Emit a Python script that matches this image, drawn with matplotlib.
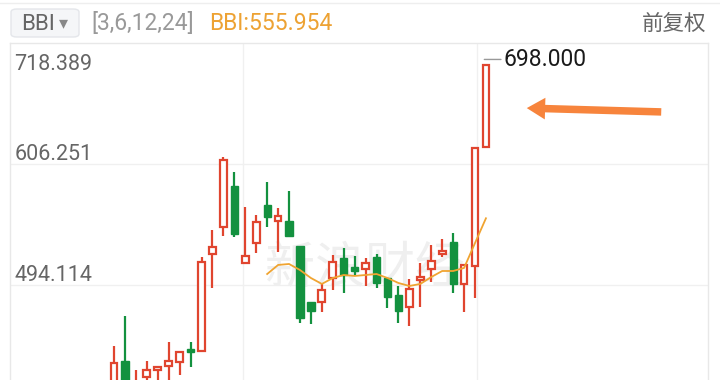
import matplotlib
matplotlib.use("Agg")
import matplotlib.pyplot as plt
from matplotlib.patches import FancyArrowPatch, FancyBboxPatch
import matplotlib.transforms as mtransforms

plt.rcParams['font.family'] = ['Roboto', 'Noto Sans CJK SC', 'DejaVu Sans']

# ---- data ----
opens  = [395.0, 423.7, 398.0, 408.9, 415.3, 419.1, 422.8, 434.8, 432.9, 522.8,
          547.9, 585.9, 514.5, 533.0, 568.2, 553.4, 553.4, 530.3, 478.4, 478.4,
          500.6, 519.1, 510.8, 509.0, 520.1, 500.6, 484.9, 473.7, 498.8, 509.0,
          522.8, 534.0, 495.1, 511.7, 622.0]
highs  = [437.6, 465.4, 415.3, 423.7, 419.1, 441.3, 432.9, 441.3, 520.1, 545.1,
          612.7, 598.8, 566.4, 559.0, 589.6, 565.5, 581.2, 530.3, 478.4, 495.1,
          521.9, 528.4, 521.0, 519.1, 522.8, 500.6, 493.2, 499.7, 514.5, 531.2,
          536.8, 542.3, 512.7, 621.1, 698.0]
lows   = [390.0, 392.0, 394.0, 402.0, 403.0, 404.0, 410.7, 418.1, 432.9, 491.3,
          539.5, 538.6, 514.5, 523.8, 547.9, 524.7, 538.6, 458.9, 458.0, 469.1,
          489.5, 486.7, 502.5, 493.2, 491.3, 472.8, 458.9, 456.1, 473.7, 496.9,
          520.1, 486.7, 469.1, 482.1, 622.0]
closes = [421.8, 398.0, 403.0, 415.3, 418.1, 423.7, 432.0, 432.0, 515.4, 529.3,
          610.0, 541.4, 521.0, 552.5, 557.1, 558.1, 539.5, 463.5, 470.0, 489.5,
          515.4, 503.4, 507.1, 514.5, 496.0, 483.0, 470.0, 490.4, 501.5, 516.4,
          525.6, 495.1, 512.7, 621.1, 698.0]
bbi_start = 14
bbi = [504.3, 512.7, 513.6, 508.0, 500.6, 495.1, 500.6, 503.4, 502.5, 503.4,
       504.3, 500.6, 496.0, 493.2, 495.1, 501.5, 507.1, 507.1, 509.9, 533.0,
       555.954]
ytick_vals = [718.389, 606.251, 494.114]
ytick_labels = ["718.389", "606.251", "494.114"]
last_label = "698.000"
header_params = "[3,6,12,24]"
header_bbi = "BBI:555.954"

RED = "#e0452f"
GREEN = "#13913f"
ORANGE_LINE = "#f0a431"

W, H = 720, 380
fig = plt.figure(figsize=(7.2, 3.8), dpi=100)
fig.patch.set_facecolor("white")

def fx(px):
    return px / W

def fy(py):
    return 1 - py / H

ax = fig.add_axes([fx(10), 0, fx(708) - fx(10), fy(43)])
ax.set_ylim(406.08, 718.389)
ax.set_xlim(-9.51, 54.3)
ax.set_xticks([])
ax.set_yticks([])
for s in ["left", "top", "right"]:
    ax.spines[s].set_color("#e8e8e8")
    ax.spines[s].set_linewidth(1)
ax.spines["bottom"].set_visible(False)

# grid
for v in ytick_vals[1:]:
    ax.axhline(v, color="#f0f0f0", lw=1, zorder=0)
for gx in [11.79, 33.18]:
    ax.axvline(gx, color="#f0f0f0", lw=1, zorder=0)

# watermark
ax.text(0.508, 0.33, "新浪财经", transform=ax.transAxes, fontsize=36,
        color="#efefef", ha="center", va="center", style="italic", zorder=0,
        family=['Noto Sans CJK SC'])

# candles
xs = list(range(len(opens)))
for i in xs:
    o, h, l, c = opens[i], highs[i], lows[i], closes[i]
    up = c >= o
    col = RED if up else GREEN
    ax.vlines(i, l, h, color=col, lw=1.6, zorder=2)
    bottom = min(o, c)
    height = max(abs(c - o), 1.2)
    if up:
        ax.bar(i, height, bottom=bottom, width=0.62, facecolor="white",
               edgecolor=col, linewidth=1.6, zorder=3)
    else:
        ax.bar(i, height, bottom=bottom, width=0.66, facecolor=col,
               edgecolor=col, linewidth=1.0, zorder=3)

# BBI line
ax.plot(range(bbi_start, bbi_start + len(bbi)), bbi, color=ORANGE_LINE, lw=1.3, zorder=4)

# y labels
for v, lab in zip(ytick_vals, ytick_labels):
    if v == ytick_vals[0]:
        ax.annotate(lab, (0.006, v), xycoords=("axes fraction", "data"),
                    xytext=(0, -8), textcoords="offset points",
                    ha="left", va="top", fontsize=15.5, color="#666666")
    else:
        ax.annotate(lab, (0.006, v), xycoords=("axes fraction", "data"),
                    xytext=(0, -1), textcoords="offset points",
                    ha="left", va="bottom", fontsize=15.5, color="#666666")

# last high label with horizontal leader
last_i = len(highs) - 1
lead_trans = mtransforms.offset_copy(ax.transData, fig=fig, x=0, y=4, units="points")
ax.annotate(last_label, (last_i - 0.15, highs[-1]), xycoords=lead_trans,
            xytext=(14, 0), textcoords="offset points",
            ha="left", va="center", fontsize=16.5, color="#1a1a1a",
            arrowprops=dict(arrowstyle="-", color="#999999", lw=1,
                            shrinkA=0, shrinkB=0, relpos=(0, 0.5)))

# header
fig.add_artist(plt.Line2D([0, 1], [fy(3), fy(3)], transform=fig.transFigure,
                          color="#eeeeee", lw=1))
box = FancyBboxPatch((fx(11), fy(37)), fx(79) - fx(11), fy(9) - fy(37),
                     boxstyle="round,pad=0,rounding_size=0.008",
                     transform=fig.transFigure, facecolor="#f5f6f8",
                     edgecolor="#e4e6ea", lw=1)
fig.add_artist(box)
fig.text(fx(21), fy(24), "BBI", fontsize=16, color="#666666", ha="left", va="center")
fig.text(fx(63), fy(23), "▾", fontsize=13, color="#888888", ha="center", va="center",
         family=['DejaVu Sans'])
fig.text(fx(91), fy(24), header_params, fontsize=16.5, color="#999999", ha="left", va="center")
fig.text(fx(209), fy(24), header_bbi, fontsize=16.5, color="#eda233", ha="left", va="center")
fig.text(fx(706), fy(24), "前复权", fontsize=15.5, color="#666666", ha="right", va="center")

# annotation arrow
arr = FancyArrowPatch((fx(664), fy(112)), (fx(524), fy(108)),
                      transform=fig.transFigure,
                      arrowstyle="simple,head_length=1.1,head_width=1.3,tail_width=0.45",
                      mutation_scale=12, color="#f7843c", lw=0)
fig.add_artist(arr)

fig.savefig("out.png", dpi=100)
